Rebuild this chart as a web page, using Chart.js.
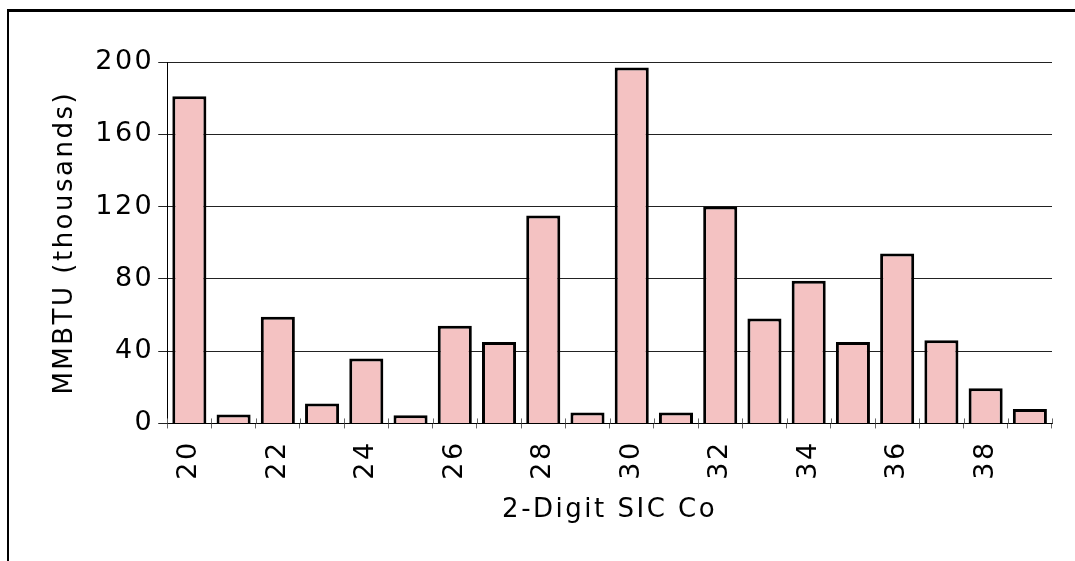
<!DOCTYPE html>
<html>
<head>
<meta charset="utf-8">
<script src="https://cdn.jsdelivr.net/npm/chart.js@4/dist/chart.umd.min.js"></script>
<style>
html,body{margin:0;padding:0;background:#fff;}
#wrap{position:relative;width:1075px;height:561px;}
#frame{position:absolute;left:7px;top:9px;width:1075px;height:560px;border-left:2px solid #000;border-top:3px solid #000;box-sizing:border-box;pointer-events:none;}
canvas{position:absolute;left:0;top:0;}
</style>
</head>
<body>
<div id="wrap">
<canvas id="c" width="1075" height="561"></canvas>
<div id="frame"></div>
</div>
<script>
const categories = ["20","21","22","23","24","25","26","27","28","29","30","31","32","33","34","35","36","37","38","39"];
const values = [181, 5, 59, 11, 36, 4.5, 54, 45, 115, 6, 197, 6, 120, 58, 79, 45, 94, 46, 19.5, 8];
const yTicks = [0, 40, 80, 120, 160, 200];
const yTitle = "MMBTU (thousands)";
const xTitle = "2-Digit SIC Co";

const FONT = "'DejaVu Sans', Verdana, sans-serif";
const SPACING = '2.5px';

const spacingPlugin = {
  id: 'spacing',
  beforeInit(chart) { chart.ctx.letterSpacing = SPACING; },
  beforeUpdate(chart) { chart.ctx.letterSpacing = SPACING; },
  beforeDraw(chart) { chart.ctx.letterSpacing = SPACING; }
};

// x-axis boundary tick marks crossing the axis line
const crossTicks = {
  id: 'crossTicks',
  afterDatasetsDraw(chart) {
    const xs = chart.scales.x, ys = chart.scales.y, ctx = chart.ctx;
    const y0 = ys.getPixelForValue(0);
    ctx.save();
    ctx.strokeStyle = '#666';
    ctx.lineWidth = 1;
    const n = categories.length;
    for (let i = 0; i <= n; i++) {
      const x = Math.round(xs.getPixelForValue(i - 0.5)) + 0.5;
      ctx.beginPath();
      ctx.moveTo(x, y0 - 5);
      ctx.lineTo(x, y0);
      ctx.stroke();
    }
    ctx.restore();
  }
};

new Chart(document.getElementById('c'), {
  type: 'bar',
  data: {
    labels: categories,
    datasets: [{
      data: values,
      backgroundColor: '#F4C2C2',
      borderColor: '#000',
      borderWidth: 3,
      barPercentage: 0.77,
      categoryPercentage: 1.0
    }]
  },
  plugins: [spacingPlugin, crossTicks],
  options: {
    responsive: false,
    animation: false,
    layout: { padding: { top: 62, right: 23, left: 50, bottom: 31 } },
    plugins: { legend: { display: false }, tooltip: { enabled: false } },
    scales: {
      x: {
        offset: true,
        grid: { offset: true, drawOnChartArea: false, drawTicks: true, tickLength: 5, color: '#666', lineWidth: 1 },
        border: { display: true, color: '#000', width: 1 },
        ticks: {
          autoSkip: false, maxRotation: 90, minRotation: 90,
          color: '#000', font: { family: FONT, size: 27 }, padding: 12,
          callback: function(v, i) { return i % 2 === 0 ? categories[i] : ''; }
        },
        title: { display: true, text: xTitle, color: '#000', font: { family: FONT, size: 26 }, padding: { top: 3 } }
      },
      y: {
        min: 0, max: 200,
        afterBuildTicks: function(axis) { axis.ticks = yTicks.map(v => ({ value: v })); },
        grid: { color: '#222', lineWidth: 1, tickLength: 9 },
        border: { display: true, color: '#000', width: 1 },
        ticks: { color: '#000', font: { family: FONT, size: 27 }, padding: 4 },
        title: { display: true, text: yTitle, color: '#000', font: { family: FONT, size: 26 }, padding: { top: 0, bottom: 10 } }
      }
    }
  }
});
</script>
</body>
</html>
